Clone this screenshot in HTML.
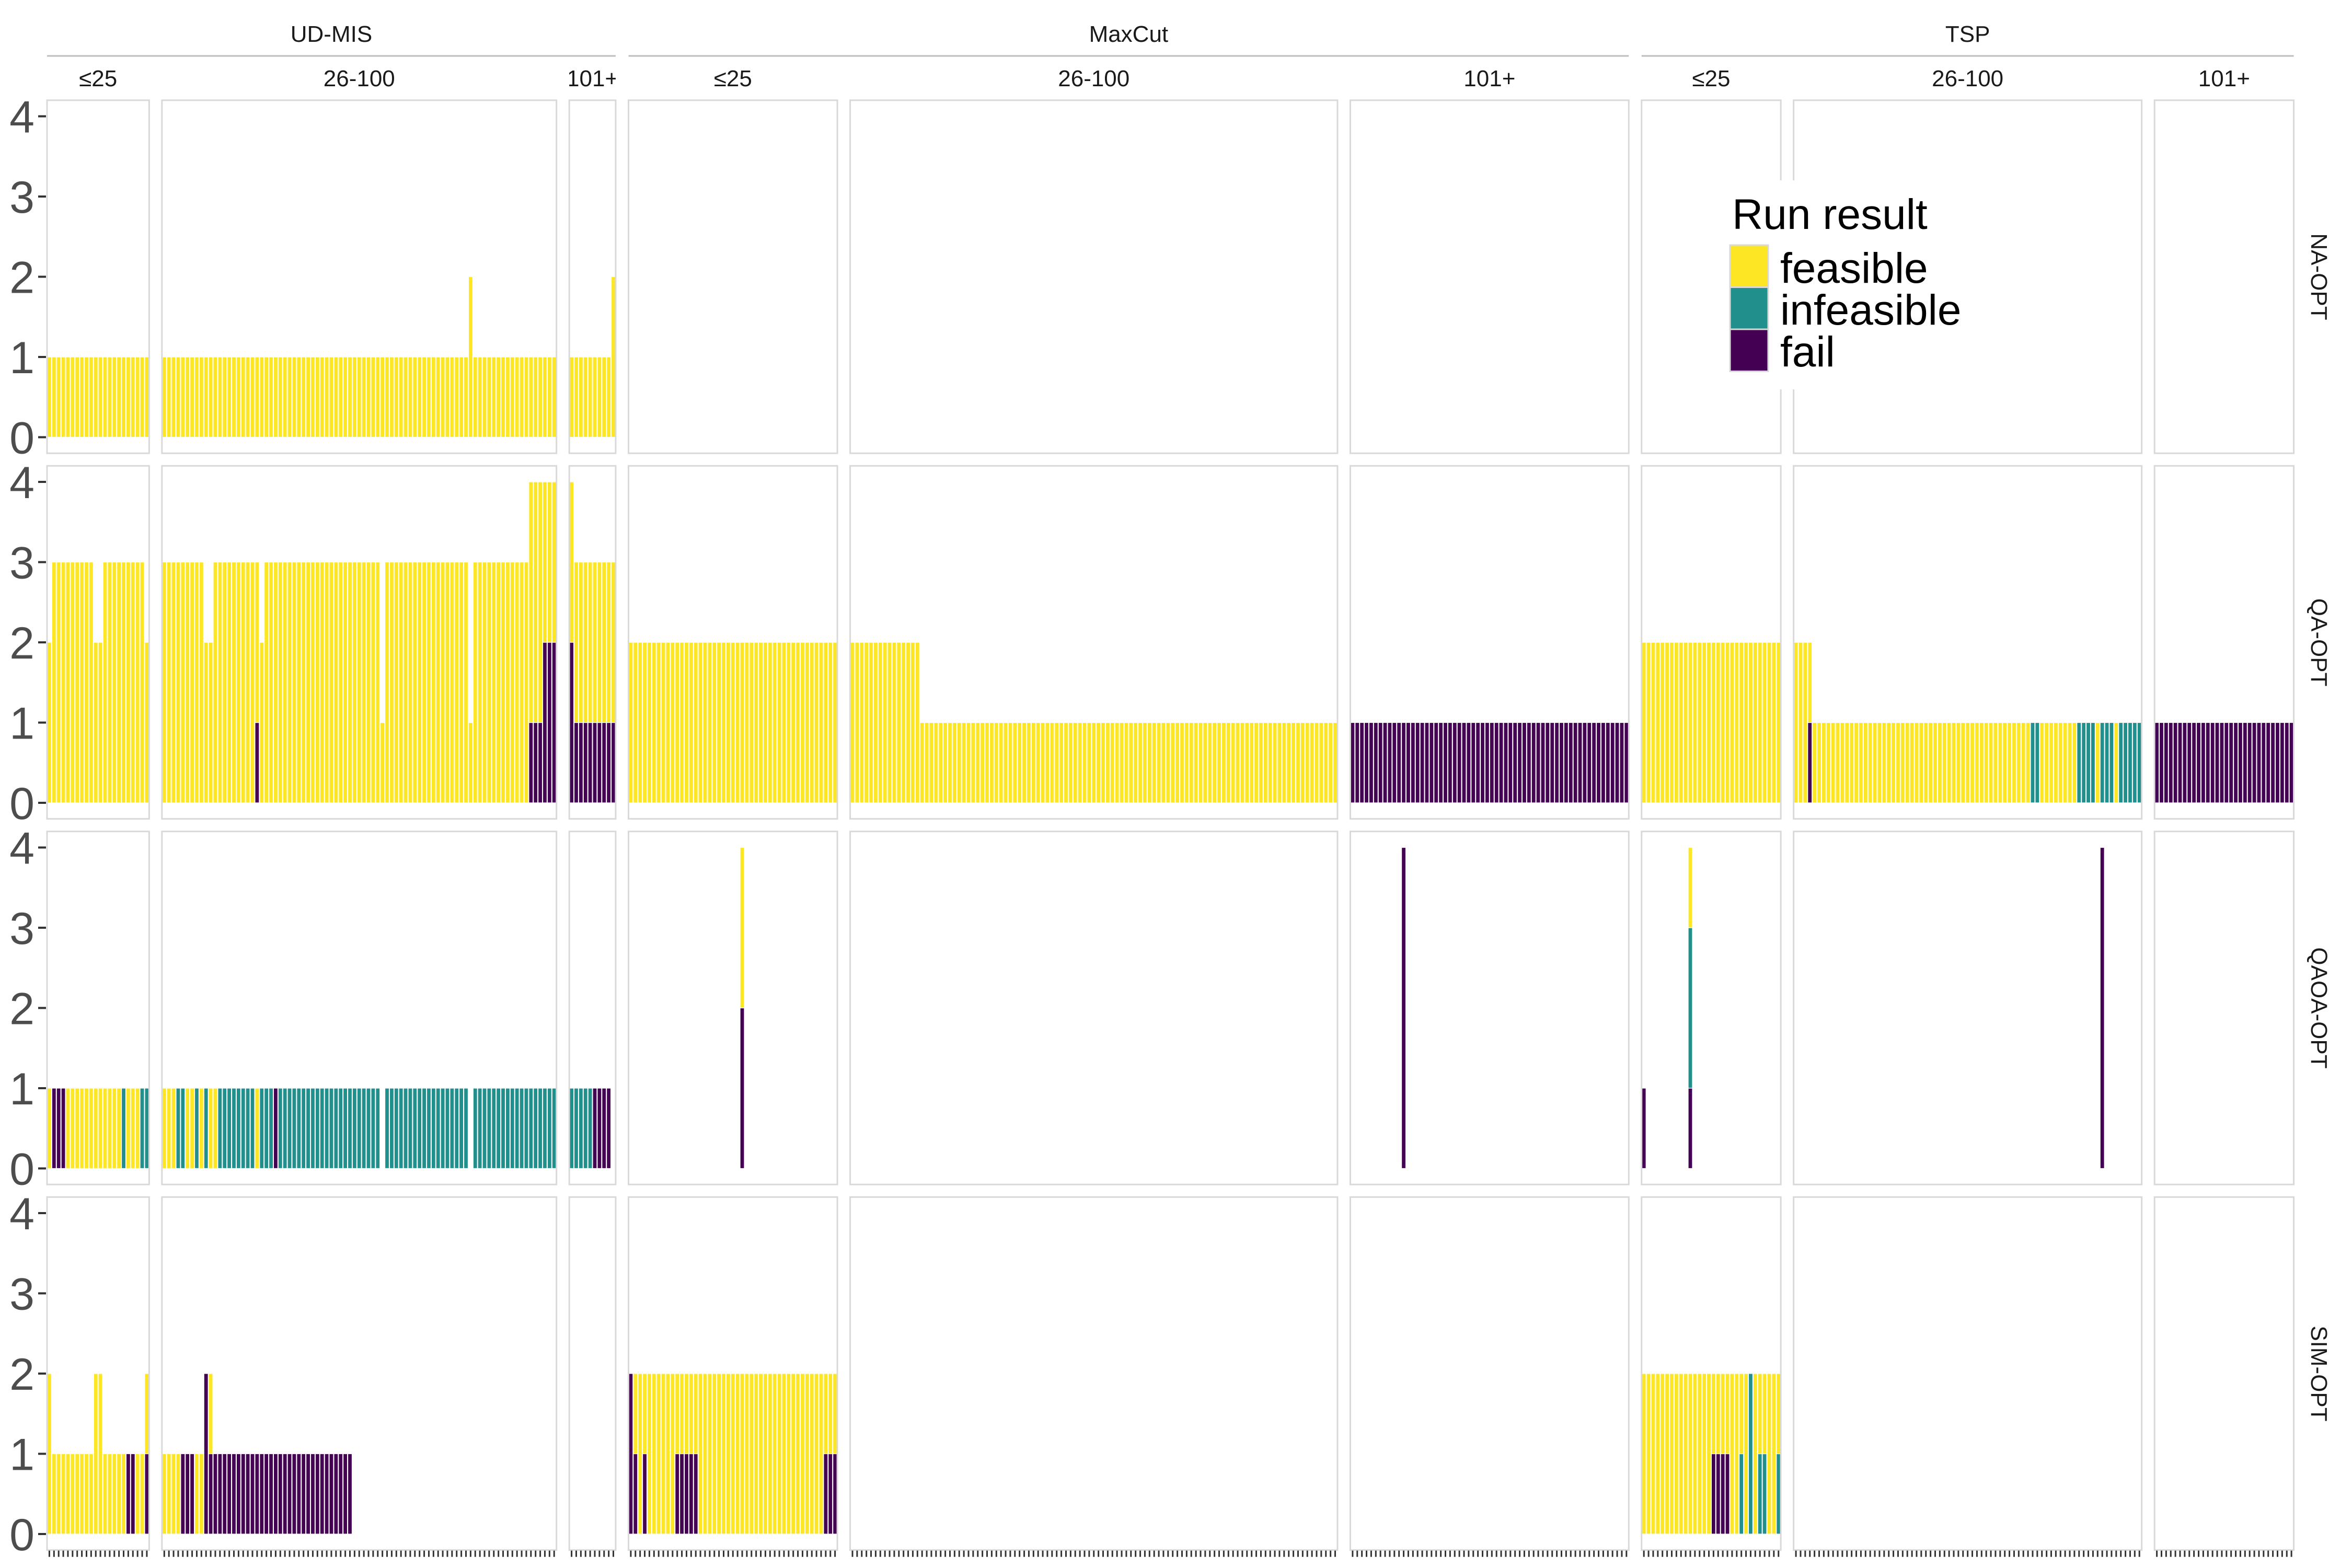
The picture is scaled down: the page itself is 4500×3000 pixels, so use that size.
<!DOCTYPE html>
<html><head><meta charset="utf-8"><style>
html,body{margin:0;padding:0;background:#fff;}
svg{display:block;font-family:"Liberation Sans",Arial,sans-serif;}
</style></head><body>
<svg id="chart" width="4500" height="3000" viewBox="0 0 4500 3000" xmlns="http://www.w3.org/2000/svg"></svg>
<script>
// ---- data ----
const problems = ["UD-MIS","MaxCut","TSP"];
const sizeBins = ["≤25","26-100","101+"];
const methods = ["NA-OPT","QA-OPT","QAOA-OPT","SIM-OPT"];
const panelCounts = [22,85,10,45,105,60,30,75,30];
const yTicks = [0,1,2,3,4];

const naFeas = [
 [1,1,1,1,1,1,1,1,1,1,1,1,1,1,1,1,1,1,1,1,1,1],
 [1,1,1,1,1,1,1,1,1,1, 1,1,1,1,1,1,1,1,1,1, 1,1,1,1,1,1,1,1,1,1, 1,1,1,1,1,1,1,1,1,1, 1,1,1,1,1,1,1,1,1,1, 1,1,1,1,1,1,1,1,1,1, 1,1,1,1,1,1,2,1,1,1, 1,1,1,1,1,1,1,1,1,1, 1,1,1,1,1],
 [1,1,1,1,1,1,1,1,1,2],
 [],[],[],[],[],[]];
const naInf = [[],[],[],[],[],[],[],[],[]];
const naFail = [[],[],[],[],[],[],[],[],[]];

const qaFeas = [
 [2,3,3,3,3,3,3,3,3,3,2,2,3,3,3,3,3,3,3,3,3,2],
 [3,3,3,3,3,3,3,3,3,2, 2,3,3,3,3,3,3,3,3,3, 2,2,3,3,3,3,3,3,3,3, 3,3,3,3,3,3,3,3,3,3, 3,3,3,3,3,3,3,1,3,3, 3,3,3,3,3,3,3,3,3,3, 3,3,3,3,3,3,1,3,3,3, 3,3,3,3,3,3,3,3,3,3, 3,3,2,2,2],
 [2,2,2,2,2,2,2,2,2,2],
 [2,2,2,2,2,2,2,2,2,2, 2,2,2,2,2,2,2,2,2,2, 2,2,2,2,2,2,2,2,2,2, 2,2,2,2,2,2,2,2,2,2, 2,2,2,2,2],
 [2,2,2,2,2,2,2,2,2,2, 2,2,2,2,2,1,1,1,1,1, 1,1,1,1,1,1,1,1,1,1, 1,1,1,1,1,1,1,1,1,1, 1,1,1,1,1,1,1,1,1,1, 1,1,1,1,1,1,1,1,1,1, 1,1,1,1,1,1,1,1,1,1, 1,1,1,1,1,1,1,1,1,1, 1,1,1,1,1,1,1,1,1,1, 1,1,1,1,1,1,1,1,1,1, 1,1,1,1,1],
 [],
 [2,2,2,2,2,2,2,2,2,2, 2,2,2,2,2,2,2,2,2,2, 2,2,2,2,2,2,2,2,2,2],
 [2,2,2,1,1,1,1,1,1,1, 1,1,1,1,1,1,1,1,1,1, 1,1,1,1,1,1,1,1,1,1, 1,1,1,1,1,1,1,1,1,1, 1,1,1,1,1,1,1,1,1,1, 1,0,0,1,1,1,1,1,1,1, 1,0,0,0,0,1,0,0,0,1, 0,0,0,0,0],
 []];
const qaInf = [[],[],[],[],[],[],[],
 [0,0,0,0,0,0,0,0,0,0, 0,0,0,0,0,0,0,0,0,0, 0,0,0,0,0,0,0,0,0,0, 0,0,0,0,0,0,0,0,0,0, 0,0,0,0,0,0,0,0,0,0, 0,1,1,0,0,0,0,0,0,0, 0,1,1,1,1,0,1,1,1,0, 1,1,1,1,1],
 []];
const qaFail = [
 [],
 [0,0,0,0,0,0,0,0,0,0, 0,0,0,0,0,0,0,0,0,0, 1,0,0,0,0,0,0,0,0,0, 0,0,0,0,0,0,0,0,0,0, 0,0,0,0,0,0,0,0,0,0, 0,0,0,0,0,0,0,0,0,0, 0,0,0,0,0,0,0,0,0,0, 0,0,0,0,0,0,0,0,0,1, 1,1,2,2,2],
 [2,1,1,1,1,1,1,1,1,1],
 [],[],
 [1,1,1,1,1,1,1,1,1,1, 1,1,1,1,1,1,1,1,1,1, 1,1,1,1,1,1,1,1,1,1, 1,1,1,1,1,1,1,1,1,1, 1,1,1,1,1,1,1,1,1,1, 1,1,1,1,1,1,1,1,1,1],
 [],
 [0,0,0,1],
 [1,1,1,1,1,1,1,1,1,1, 1,1,1,1,1,1,1,1,1,1, 1,1,1,1,1,1,1,1,1,1]];

const qaoaFeas = [
 [1,0,0,0,1,1,1,1,1,1,1,1,1,1,1,1,0,1,1,1,0,0],
 [1,1,1,0,0,1,1,0,1,0,1,1,0,0,0,0,0,0,0,0,1],
 [],
 [0,0,0,0,0,0,0,0,0,0, 0,0,0,0,0,0,0,0,0,0, 0,0,0,0,2],
 [],[],
 [0,0,0,0,0,0,0,0,0,0,1],
 [],[]];
const qaoaInf = [
 [0,0,0,0,0,0,0,0,0,0,0,0,0,0,0,0,1,0,0,0,1,1],
 [0,0,0,1,1,0,0,1,0,1, 0,0,1,1,1,1,1,1,1,1, 0,1,1,1,0,1,1,1,1,1, 1,1,1,1,1,1,1,1,1,1, 1,1,1,1,1,1,1,0,1,1, 1,1,1,1,1,1,1,1,1,1, 1,1,1,1,1,1,0,1,1,1, 1,1,1,1,1,1,1,1,1,1, 1,1,1,1,1],
 [1,1,1,1,1,0,0,0,0,0],
 [],[],[],
 [0,0,0,0,0,0,0,0,0,0,2],
 [],[]];
const qaoaFail = [
 [0,1,1,1],
 [0,0,0,0,0,0,0,0,0,0, 0,0,0,0,0,0,0,0,0,0, 0,0,0,0,1],
 [0,0,0,0,0,1,1,1,1,0],
 [0,0,0,0,0,0,0,0,0,0, 0,0,0,0,0,0,0,0,0,0, 0,0,0,0,2],
 [],
 [0,0,0,0,0,0,0,0,0,0,0,4],
 [1,0,0,0,0,0,0,0,0,0,1],
 [0,0,0,0,0,0,0,0,0,0, 0,0,0,0,0,0,0,0,0,0, 0,0,0,0,0,0,0,0,0,0, 0,0,0,0,0,0,0,0,0,0, 0,0,0,0,0,0,0,0,0,0, 0,0,0,0,0,0,0,0,0,0, 0,0,0,0,0,0,4],
 []];

const simFeas = [
 [2,1,1,1,1,1,1,1,1,1,2,2,1,1,1,1,1,0,0,1,1,1],
 [1,1,1,1,0,0,0,1,1,0,1],
 [],
 [0,1,2,1,2,2,2,2,2,2, 1,1,1,1,1,2,2,2,2,2, 2,2,2,2,2,2,2,2,2,2, 2,2,2,2,2,2,2,2,2,2, 2,2,1,1,1],
 [],[],
 [2,2,2,2,2,2,2,2,2,2, 2,2,2,2,2,1,1,1,1,2, 2,1,2,0,2,1,1,2,2,1],
 [],[]];
const simInf = [[],[],[],[],[],[],
 [0,0,0,0,0,0,0,0,0,0, 0,0,0,0,0,0,0,0,0,0, 0,1,0,2,0,1,1,0,0,1],
 [],[]];
const simFail = [
 [0,0,0,0,0,0,0,0,0,0,0,0,0,0,0,0,0,1,1,0,0,1],
 [0,0,0,0,1,1,1,0,0,2, 1,1,1,1,1,1,1,1,1,1, 1,1,1,1,1,1,1,1,1,1, 1,1,1,1,1,1,1,1,1,1, 1],
 [],
 [2,1,0,1,0,0,0,0,0,0, 1,1,1,1,1,0,0,0,0,0, 0,0,0,0,0,0,0,0,0,0, 0,0,0,0,0,0,0,0,0,0, 0,0,1,1,1],
 [],[],
 [0,0,0,0,0,0,0,0,0,0, 0,0,0,0,0,1,1,1,1],
 [],[]];

const rowFeas = [naFeas, qaFeas, qaoaFeas, simFeas];
const rowInf = [naInf, qaInf, qaoaInf, simInf];
const rowFail = [naFail, qaFail, qaoaFail, simFail];

// ---- layout ----
const NS = "http://www.w3.org/2000/svg";
const svg = document.getElementById("chart");
const C = {feas:"#FDE725", inf:"#21908C", fail:"#440154"};
const X0 = 90, PITCH = 8.88, GAP = 24.5;
const ZERO = [836.5, 1536, 2235.5, 2935], UNIT = 153.5;
function el(tag, attrs, parent){ const e=document.createElementNS(NS,tag); for(const k in attrs) e.setAttribute(k,attrs[k]); (parent||svg).appendChild(e); return e; }
const starts = [];
let cx = X0;
for (let p=0;p<panelCounts.length;p++){ starts.push(cx); cx += panelCounts[p]*PITCH + GAP; }
function xPos(p,i){ return starts[p] + i*PITCH; }
function yPos(r,v){ return ZERO[r] - v*UNIT; }

// strips
for (let g=0; g<3; g++){
  const a = starts[g*3], b = starts[g*3+2] + panelCounts[g*3+2]*PITCH;
  const t = el("text",{x:(a+b)/2,y:80,"font-size":44,"text-anchor":"middle",fill:"#1a1a1a"});
  t.textContent = problems[g];
  
  
  const l = el("line",{x1:a,x2:b,y1:107,y2:107,stroke:"#bdbdbd","stroke-width":3});
  
  
}
for (let p=0;p<9;p++){
  const w = panelCounts[p]*PITCH;
  const ns = el("svg",{x:starts[p],y:115,width:w,height:70,overflow:"hidden"});
  const t = el("text",{x:w/2,y:50,"font-size":44,"text-anchor":"middle",fill:"#1a1a1a"},ns);
  t.textContent = sizeBins[p%3];
  
  
}

// panels
for (let r=0;r<4;r++){
  const top = yPos(r,4.2), bot = yPos(r,-0.2);
  for (let p=0;p<9;p++){
    const w = panelCounts[p]*PITCH;
    const F=rowFeas[r][p], I=rowInf[r][p], D=rowFail[r][p];
    for (let i=0;i<panelCounts[p];i++){
      const f=D[i]||0, inf=I[i]||0, fe=F[i]||0;
      const segs=[[f,C.fail,'bar-fail'],[inf,C.inf,'bar-infeasible'],[fe,C.feas,'bar-feasible']];
      let base=0;
      for (const s of segs){
        if (s[0]>0){
          const rc = el("rect",{x:xPos(p,i)+0.05*PITCH,width:0.9*PITCH,y:yPos(r,base+s[0]),height:s[0]*UNIT,fill:s[1],stroke:"#fff","stroke-width":1.2});
          
          
          base+=s[0];
        }
      }
    }
    const bd = el("rect",{x:starts[p],y:top,width:w,height:bot-top,fill:"none",stroke:"#d9d9d9","stroke-width":3});
    
    
    if (r===3){
      for (let i=0;i<panelCounts[p];i++){
        const tk = el("line",{x1:xPos(p,i)+PITCH/2,x2:xPos(p,i)+PITCH/2,y1:bot+1,y2:bot+13,stroke:"#333","stroke-width":3});
        
        
      }
    }
  }
  for (const v of yTicks){
    const tk = el("line",{x1:73,x2:88,y1:yPos(r,v),y2:yPos(r,v),stroke:"#333","stroke-width":4});
    
    
    const tl = el("text",{x:66,y:yPos(r,v)+31,"font-size":86,"text-anchor":"end",fill:"#4d4d4d"});
    tl.textContent = v;
    
    
  }
  const my = (top+bot)/2;
  const rl = el("text",{x:4422,y:my,"font-size":44,"text-anchor":"middle",fill:"#1a1a1a",transform:`rotate(90 4422 ${my})`});
  rl.textContent = methods[r];
  
  
}

// legend
const lg = el("g",{});


el("rect",{x:3290,y:345,width:500,height:400,fill:"#fff"},lg);
const lt = el("text",{x:3314,y:438,"font-size":82,fill:"#000"},lg);
lt.textContent = "Run result";


const legLabels = ["feasible","infeasible","fail"];
const legColors = [C.feas, C.inf, C.fail];
for (let k=0;k<3;k++){
  const y = 469 + k*80.5;
  const kr = el("rect",{x:3310,y:y,width:73,height:80.5,fill:legColors[k],stroke:"#d9d9d9","stroke-width":3},lg);
  
  
  const kt = el("text",{x:3406,y:541+k*80,"font-size":82,fill:"#000"},lg);
  kt.textContent = legLabels[k];
  
  
}
</script>
</body></html>
